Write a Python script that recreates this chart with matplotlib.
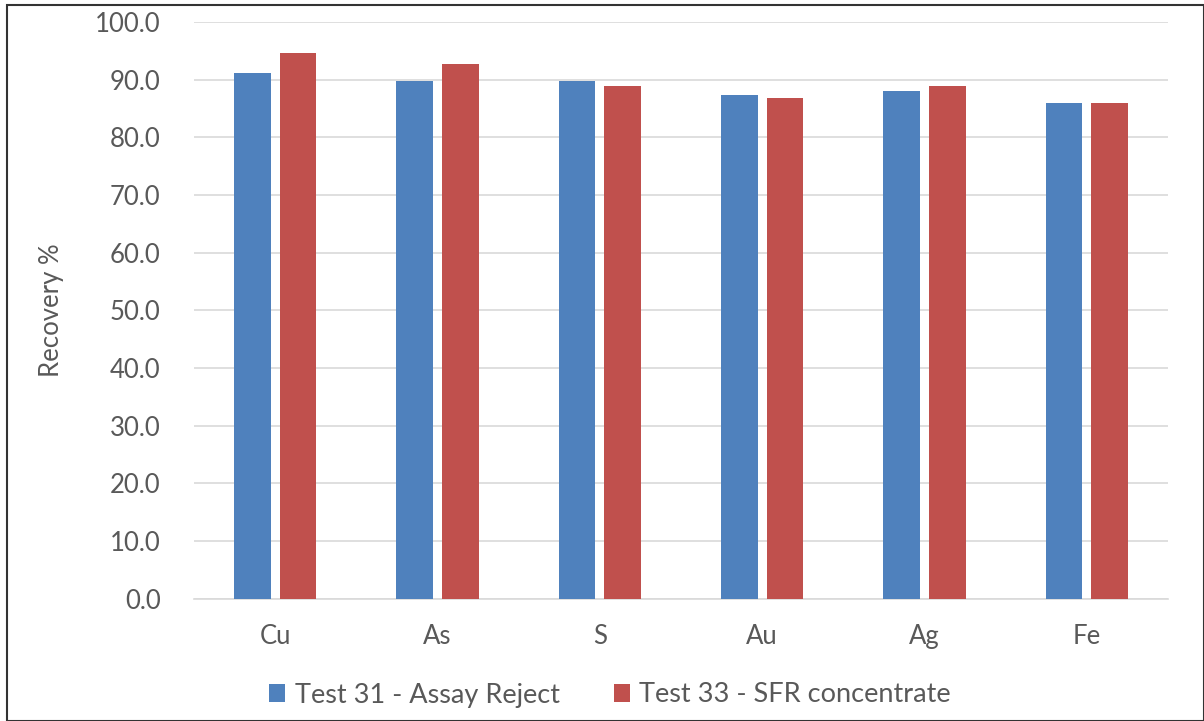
import matplotlib
matplotlib.use("Agg")
import matplotlib.pyplot as plt
import numpy as np
from matplotlib.patches import Rectangle

categories = ["Cu", "As", "S", "Au", "Ag", "Fe"]
test31 = [91.1, 89.8, 89.8, 87.3, 88.1, 85.9]
test33 = [94.6, 92.8, 88.9, 86.8, 88.9, 85.9]
series_names = ["Test 31 - Assay Reject", "Test 33 - SFR concentrate"]
yticks = [0, 10, 20, 30, 40, 50, 60, 70, 80, 90, 100]

plt.rcParams['font.family'] = ['Lato', 'DejaVu Sans']
text_color = "#595959"

W, H = 1204, 721
fig = plt.figure(figsize=(W / 100, H / 100), dpi=100)
fig.patch.set_facecolor("white")

ax = fig.add_axes([194 / W, 1 - 598.7 / H, (1168 - 194) / W, (598.7 - 22) / H])

x = np.arange(len(categories))
bw = 0.225
off = 0.141
b1 = ax.bar(x - off, test31, bw, color="#4F81BD", label=series_names[0], zorder=3)
b2 = ax.bar(x + off, test33, bw, color="#C0504D", label=series_names[1], zorder=3)

ax.set_xlim(-0.5, len(categories) - 0.5)
ax.set_ylim(0, 100)
ax.set_yticks(yticks)
ax.set_yticklabels([f"{v:.1f}" for v in yticks])
ax.set_xticks(x)
ax.set_xticklabels(categories)
ax.yaxis.grid(True, color="#D9D9D9", linewidth=1.2, zorder=0)
ax.set_axisbelow(True)
for s in ["top", "right", "left"]:
    ax.spines[s].set_visible(False)
ax.spines["bottom"].set_color("#D9D9D9")
ax.spines["bottom"].set_linewidth(1.2)
ax.tick_params(axis="both", length=0, labelsize=18.5, colors=text_color)
ax.tick_params(axis="y", pad=24)
ax.tick_params(axis="x", pad=18)
ax.set_ylabel("Recovery %", fontsize=18.5, color=text_color, labelpad=22)

leg = fig.legend(handles=[b1, b2], labels=series_names, loc="center",
                 bbox_to_anchor=(610 / W, 1 - 695 / H), ncol=2, frameon=False,
                 fontsize=19.5, handlelength=0.6, handleheight=0.6,
                 handletextpad=0.35, columnspacing=2.0)
for t in leg.get_texts():
    t.set_color(text_color)

border = Rectangle((7 / W, 0.5 / H), (W - 7.5) / W, (H - 5.5) / H, transform=fig.transFigure,
                   fill=False, edgecolor="#333333", linewidth=1.5)
fig.patches.append(border)

fig.savefig("out.png", dpi=100)
